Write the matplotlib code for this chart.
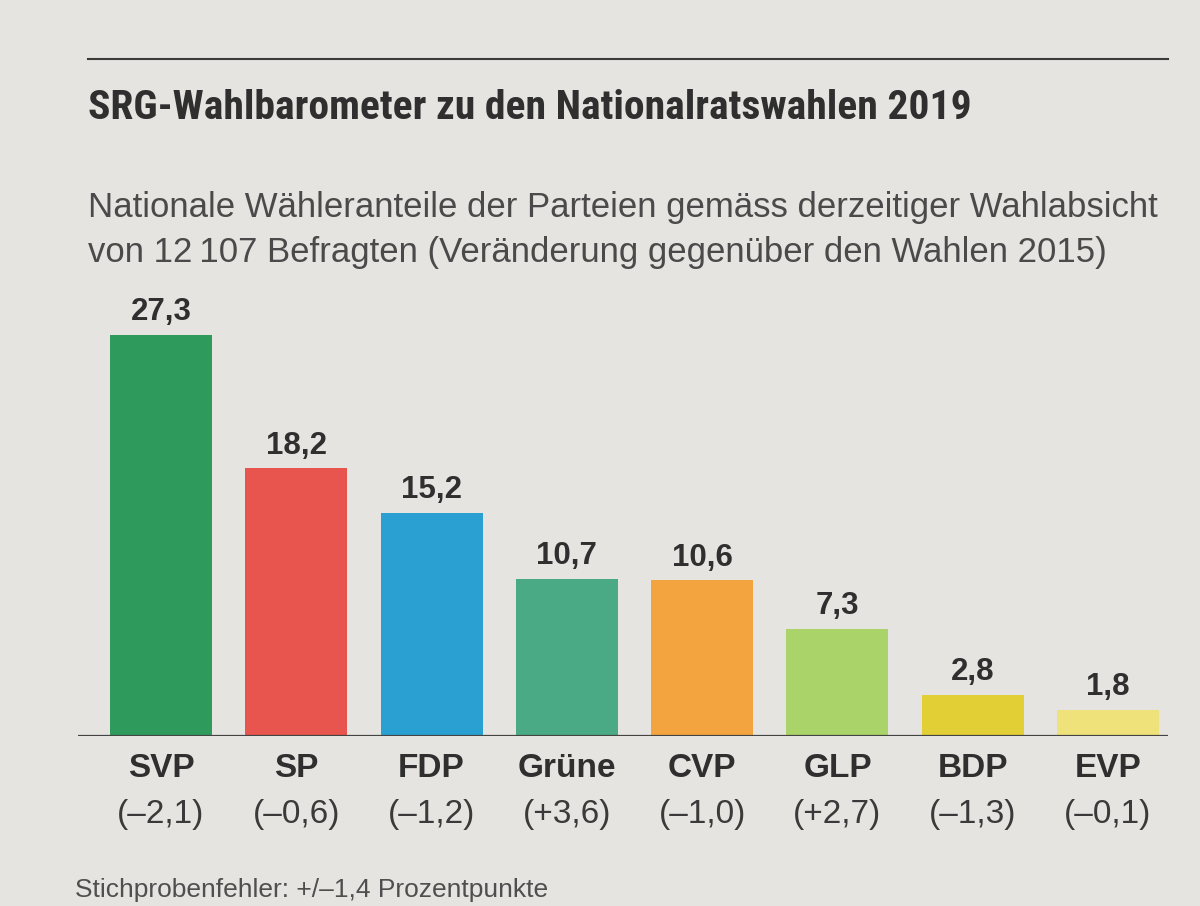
import matplotlib
matplotlib.use("Agg")
import matplotlib.pyplot as plt
from matplotlib.lines import Line2D

# Daten
parteien = ["SVP", "SP", "FDP", "Grüne", "CVP", "GLP", "BDP", "EVP"]
anteile = [27.3, 18.2, 15.2, 10.7, 10.6, 7.3, 2.8, 1.8]
veraenderung = [-2.1, -0.6, -1.2, 3.6, -1.0, 2.7, -1.3, -0.1]
farben = ["#2e9a5c", "#e8554f", "#2aa0d2", "#4aaa85",
          "#f3a43e", "#aad36a", "#e2cf35", "#efe27a"]

titel = "SRG-Wahlbarometer zu den Nationalratswahlen 2019"
untertitel1 = "Nationale Wähleranteile der Parteien gemäss derzeitiger Wahlabsicht"
untertitel2 = "von 12\u2009107 Befragten (Veränderung gegenüber den Wahlen 2015)"
fussnote = "Stichprobenfehler: +/–1,4 Prozentpunkte"

W, H = 1200, 906
papier = "#e6e4e1"
text_dunkel = "#2f2f2f"

plt.rcParams["font.family"] = ["Liberation Sans", "DejaVu Sans"]

fig = plt.figure(figsize=(W / 100, H / 100), dpi=100, facecolor=papier)

# Achse fuer die Balken (Pixelpositionen aus der Vorlage)
basis = 736
px_pro_einheit = 14.7
ax = fig.add_axes([78 / W, (H - basis) / H, (1168 - 78) / W, 30 * px_pro_einheit / H])
ax.set_facecolor("none")
x = list(range(len(parteien)))
ax.bar(x, anteile, width=0.754, color=farben, zorder=2)
ax.set_xlim(-0.613, 7.443)
ax.set_ylim(0, 30)
ax.axis("off")
ax.axhline(0, color="#444444", lw=1.6, zorder=3)

for i, (v, d, p) in enumerate(zip(anteile, veraenderung, parteien)):
    ax.annotate(f"{v:.1f}".replace(".", ","), (i, v), xytext=(0, 10.5),
                textcoords="offset points", ha="center", va="baseline",
                fontsize=22.5, fontweight="bold", color=text_dunkel)
    ax.annotate(p, (i, 0), xytext=(0, -29.5), textcoords="offset points",
                ha="center", va="baseline", fontsize=24, fontweight="bold",
                color=text_dunkel, annotation_clip=False)
    zeichen = "+" if d > 0 else "–"
    ax.annotate(f"({zeichen}{abs(d):.1f})".replace(".", ","), (i, 0),
                xytext=(0, -63), textcoords="offset points",
                ha="center", va="baseline", fontsize=24, color="#3a3a3a",
                annotation_clip=False)

# Linie oben, Titel, Untertitel, Fussnote
fig.add_artist(Line2D([88 / W, 1168 / W], [1 - 59 / H, 1 - 59 / H],
                      color="#3a3a3a", lw=1.5))
t = fig.text(88 / W, 1 - 119 / H, titel, ha="left", va="baseline",
             fontsize=28, fontweight="bold", color=text_dunkel,
             family=["Roboto Condensed", "DejaVu Sans"], fontstretch="condensed")
fig.text(88 / W, 1 - 217 / H, untertitel1, ha="left", va="baseline",
         fontsize=25, color="#4a4a4a")
fig.text(88 / W, 1 - 262 / H, untertitel2, ha="left", va="baseline",
         fontsize=25, color="#4a4a4a")
fig.text(75 / W, 1 - 897 / H, fussnote, ha="left", va="baseline",
         fontsize=19, color="#4f4f4f")

# Titel auf die Breite der Vorlage bringen (ca. 882 px)
fig.canvas.draw()
breite = t.get_window_extent().width
t.set_fontsize(28 * 882 / breite)

fig.savefig("out.png", dpi=100, facecolor=papier)
